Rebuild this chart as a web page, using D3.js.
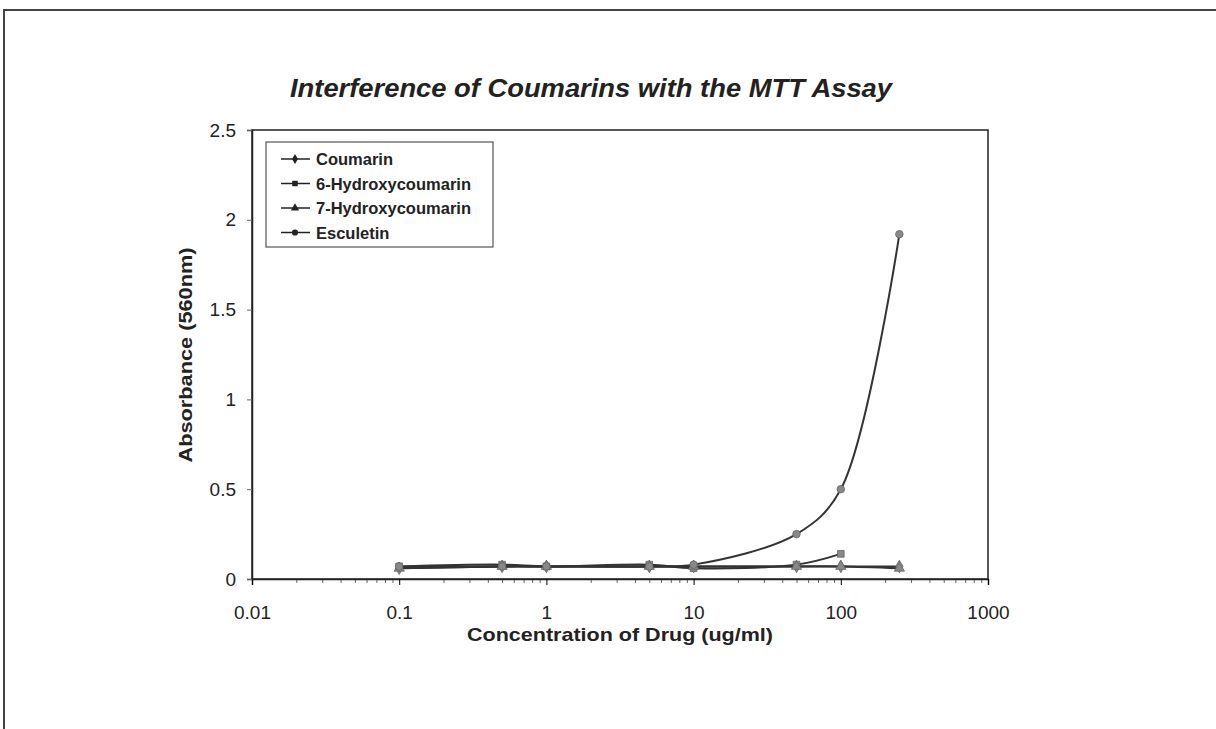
<!DOCTYPE html>
<html>
<head>
<meta charset="utf-8">
<script src="https://cdn.jsdelivr.net/npm/d3@7"></script>
<style>
  body { margin: 0; background: #fff; }
  svg { font-family: "Liberation Sans", Arial, sans-serif; }
</style>
</head>
<body>
<svg id="chart" width="1216" height="729"></svg>
<script>
// Data
var concentrations = [0.1, 0.5, 1, 5, 10, 50, 100, 250];
var coumarin = [0.06, 0.07, 0.07, 0.07, 0.07, 0.07, 0.07, 0.07];
var hydroxy6 = [0.07, 0.08, 0.07, 0.08, 0.06, 0.08, 0.14];
var hydroxy7 = [0.06, 0.07, 0.07, 0.07, 0.07, 0.07, 0.07, 0.06];
var esculetin = [0.07, 0.07, 0.07, 0.07, 0.08, 0.25, 0.50, 1.92];

var seriesNames = ["Coumarin", "6-Hydroxycoumarin", "7-Hydroxycoumarin", "Esculetin"];
var seriesValues = [coumarin, hydroxy6, hydroxy7, esculetin];
var seriesMarkers = [d3.symbolDiamond, d3.symbolSquare, d3.symbolTriangle, d3.symbolCircle];

var xTicks = [0.01, 0.1, 1, 10, 100, 1000];
var xTickLabels = ["0.01", "0.1", "1", "10", "100", "1000"];
var yTicks = [0, 0.5, 1, 1.5, 2, 2.5];
var yTickLabels = ["0", "0.5", "1", "1.5", "2", "2.5"];

// layout
var margin = {left: 252, top: 130, right: 988, bottom: 579};

var svg = d3.select("#chart");

// outer frame (top + left edge of the page scan)
svg.append("line").attr("x1", 3).attr("x2", 1216).attr("y1", 10).attr("y2", 10)
    .attr("stroke", "#444").attr("stroke-width", 2);
svg.append("line").attr("x1", 4).attr("x2", 4).attr("y1", 10).attr("y2", 729)
    .attr("stroke", "#444").attr("stroke-width", 2);

var x = d3.scaleLog().domain([0.01, 1000]).range([margin.left, margin.right]);
var y = d3.scaleLinear().domain([0, 2.5]).range([margin.bottom, margin.top]);

// plot box
svg.append("rect")
    .attr("x", margin.left).attr("y", margin.top)
    .attr("width", margin.right - margin.left).attr("height", margin.bottom - margin.top)
    .attr("fill", "none").attr("stroke", "#222").attr("stroke-width", 1.5);

// X axis with minor ticks
var minor = [];
for (var d = 0.01; d < 1000; d *= 10) {
    for (var k = 2; k <= 9; k++) minor.push(d * k);
}
svg.append("g")
    .attr("transform", "translate(0," + margin.bottom + ")")
    .call(d3.axisBottom(x).tickValues(minor).tickSize(4).tickFormat(""))
    .call(function(g) { g.select(".domain").remove(); })
    .selectAll("line").attr("stroke", "#666");

var xAxis = svg.append("g")
    .attr("transform", "translate(0," + margin.bottom + ")")
    .call(d3.axisBottom(x).tickValues(xTicks).tickSize(6)
        .tickFormat(function(d, i) { return xTickLabels[i]; }).tickPadding(21));
xAxis.select(".domain").attr("stroke", "#222").attr("stroke-width", 1.5);
xAxis.selectAll("text").attr("font-size", "19px").attr("fill", "#222");

// Y axis
var yAxis = svg.append("g")
    .attr("transform", "translate(" + margin.left + ",0)")
    .call(d3.axisLeft(y).tickValues(yTicks).tickSize(5).tickPadding(11)
        .tickFormat(function(d, i) { return yTickLabels[i]; }));
yAxis.select(".domain").attr("stroke", "#222").attr("stroke-width", 1.5);
yAxis.selectAll("line").attr("stroke", "#666");
yAxis.selectAll("text").attr("font-size", "19px").attr("fill", "#222");

// Title
svg.append("text")
    .attr("x", 591).attr("y", 97)
    .attr("text-anchor", "middle")
    .attr("font-size", "26px").attr("font-weight", "bold").attr("font-style", "italic")
    .attr("fill", "#222")
    .attr("textLength", 602).attr("lengthAdjust", "spacingAndGlyphs")
    .text("Interference of Coumarins with the MTT Assay");

// axis titles
svg.append("text")
    .attr("x", 620).attr("y", 641)
    .attr("text-anchor", "middle")
    .attr("font-size", "18.5px").attr("font-weight", "bold").attr("fill", "#222")
    .attr("textLength", 306).attr("lengthAdjust", "spacingAndGlyphs")
    .text("Concentration of Drug (ug/ml)");

svg.append("text")
    .attr("transform", "translate(192,355) rotate(-90)")
    .attr("text-anchor", "middle")
    .attr("font-size", "19px").attr("font-weight", "bold").attr("fill", "#222")
    .attr("textLength", 215).attr("lengthAdjust", "spacingAndGlyphs")
    .text("Absorbance (560nm)");

// lines
var line = d3.line()
    .x(function(d) { return x(d[0]); })
    .y(function(d) { return y(d[1]); })
    .curve(d3.curveCatmullRom.alpha(0.5));

seriesValues.forEach(function(vals, i) {
    var pts = vals.map(function(v, j) { return [concentrations[j], v]; });
    svg.append("path")
        .datum(pts)
        .attr("d", line)
        .attr("fill", "none")
        .attr("stroke", "#333")
        .attr("stroke-width", 2);
    svg.append("g").selectAll("path").data(pts).enter().append("path")
        .attr("transform", function(d) { return "translate(" + x(d[0]) + "," + y(d[1]) + ")"; })
        .attr("d", d3.symbol().type(seriesMarkers[i]).size(45))
        .attr("fill", "#888")
        .attr("stroke", "#666")
        .attr("stroke-width", 0.8);
});

// legend
var legend = svg.append("g");
legend.append("rect")
    .attr("x", 266).attr("y", 142).attr("width", 227).attr("height", 105)
    .attr("fill", "#fff").attr("stroke", "#555").attr("stroke-width", 1.2);

seriesNames.forEach(function(name, i) {
    var ly = 159 + i * 24.5;
    legend.append("line")
        .attr("x1", 281).attr("x2", 310).attr("y1", ly).attr("y2", ly)
        .attr("stroke", "#222").attr("stroke-width", 1.5);
    legend.append("path")
        .attr("transform", "translate(295," + ly + ")")
        .attr("d", d3.symbol().type(seriesMarkers[i]).size(30))
        .attr("fill", "#222");
    legend.append("text")
        .attr("x", 316).attr("y", ly + 6)
        .attr("font-size", "16.5px").attr("font-weight", "bold").attr("fill", "#222")
        .text(name);
});
</script>
</body>
</html>
